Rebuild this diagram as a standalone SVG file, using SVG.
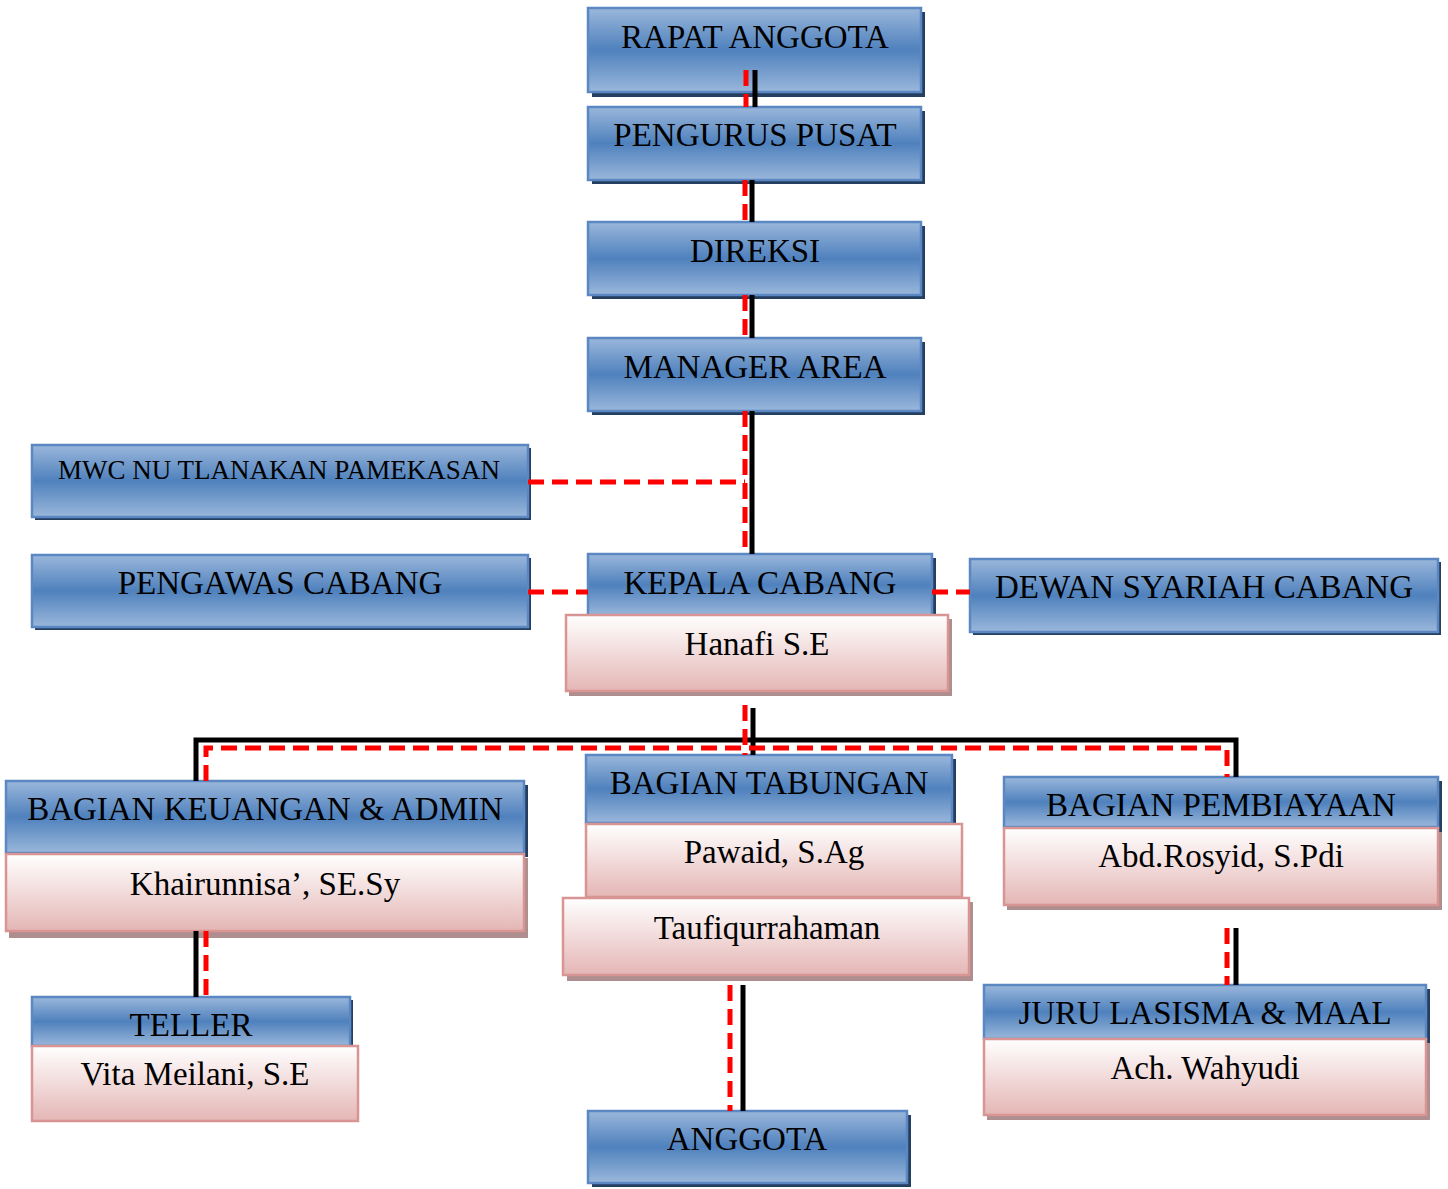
<svg xmlns="http://www.w3.org/2000/svg" width="1448" height="1189" viewBox="0 0 1448 1189">
<defs>
<linearGradient id="gb" x1="0" y1="0" x2="0" y2="1">
<stop offset="0" stop-color="#9ab7db"/>
<stop offset="0.5" stop-color="#4f81bd"/>
<stop offset="1" stop-color="#9ab7db"/>
</linearGradient>
<linearGradient id="gp" x1="0" y1="0" x2="0" y2="1">
<stop offset="0" stop-color="#ffffff"/>
<stop offset="1" stop-color="#e4b6b5"/>
</linearGradient>
</defs>
<style>
.bs{fill:#243f60}
.b{fill:url(#gb);stroke:#5b87c2;stroke-width:2.5}
.ps{fill:#ae8e8e}
.p{fill:url(#gp);stroke:#d89593;stroke-width:2.5}
text{font-family:"Liberation Serif","Times New Roman",serif;font-size:33px;fill:#000;text-anchor:middle;dominant-baseline:central}
.sm{font-size:27px}
.k{fill:none;stroke:#000;stroke-width:5}
.r{fill:none;stroke:#ff0000;stroke-width:5;stroke-dasharray:16 8}
</style>

<g id="rapat-anggota">
<rect class="bs" x="592" y="12" width="333" height="85"/>
<rect class="b" x="588" y="8" width="333" height="84"/>
<text x="755" y="37">RAPAT ANGGOTA</text>
</g>
<g id="pengurus-pusat">
<rect class="bs" x="592" y="111" width="333" height="73"/>
<rect class="b" x="588" y="107" width="333" height="73"/>
<text x="755" y="135">PENGURUS PUSAT</text>
</g>
<g id="direksi">
<rect class="bs" x="592" y="226" width="333" height="73"/>
<rect class="b" x="588" y="222" width="333" height="73"/>
<text x="755" y="251">DIREKSI</text>
</g>
<g id="manager-area">
<rect class="bs" x="592" y="342" width="333" height="73"/>
<rect class="b" x="588" y="338" width="333" height="73"/>
<text x="755" y="367">MANAGER AREA</text>
</g>
<g id="mwc-nu">
<rect class="bs" x="35" y="448" width="496" height="72"/>
<rect class="b" x="32" y="445" width="496" height="72"/>
<text class="sm" x="279" y="470">MWC NU TLANAKAN PAMEKASAN</text>
</g>
<g id="pengawas-cabang">
<rect class="bs" x="35" y="558" width="496" height="72"/>
<rect class="b" x="32" y="555" width="496" height="72"/>
<text x="280" y="583">PENGAWAS CABANG</text>
</g>
<g id="kepala-cabang">
<rect class="bs" x="592" y="558" width="344" height="62"/>
<rect class="b" x="588" y="554" width="344" height="62"/>
<text x="760" y="583">KEPALA CABANG</text>
<rect class="ps" x="569" y="619" width="383" height="77"/>
<rect class="p" x="566" y="615" width="382" height="76"/>
<text x="757" y="644">Hanafi S.E</text>
</g>
<g id="dewan-syariah-cabang">
<rect class="bs" x="973" y="562" width="468" height="73"/>
<rect class="b" x="970" y="559" width="468" height="73"/>
<text x="1204" y="587">DEWAN SYARIAH CABANG</text>
</g>
<g id="bagian-keuangan">
<rect class="bs" x="10" y="785" width="518" height="72"/>
<rect class="b" x="6" y="781" width="518" height="72"/>
<text x="265" y="809">BAGIAN KEUANGAN &amp; ADMIN</text>
<rect class="ps" x="9" y="858" width="519" height="80"/>
<rect class="p" x="6" y="854" width="518" height="77"/>
<text x="265" y="884">Khairunnisa’, SE.Sy</text>
</g>
<g id="bagian-tabungan">
<rect class="bs" x="590" y="759" width="366" height="68"/>
<rect class="b" x="586" y="755" width="366" height="68"/>
<text x="769" y="783">BAGIAN TABUNGAN</text>
<rect class="p" x="586" y="824" width="376" height="73"/>
<text x="774" y="852">Pawaid, S.Ag</text>
<rect class="ps" x="567" y="902" width="406" height="79"/>
<rect class="p" x="563" y="898" width="406" height="77"/>
<text x="767" y="928">Taufiqurrahaman</text>
</g>
<g id="bagian-pembiayaan">
<rect class="bs" x="1008" y="781" width="434" height="74"/>
<rect class="b" x="1004" y="777" width="434" height="50"/>
<text x="1221" y="805">BAGIAN PEMBIAYAAN</text>
<rect class="ps" x="1007" y="832" width="435" height="78"/>
<rect class="p" x="1004" y="828" width="434" height="77"/>
<text x="1221" y="856">Abd.Rosyid, S.Pdi</text>
</g>
<g id="teller">
<rect class="bs" x="35" y="1000" width="318" height="49"/>
<rect class="b" x="32" y="997" width="318" height="49"/>
<text x="191" y="1025">TELLER</text>
<rect class="p" x="32" y="1046" width="326" height="75"/>
<text x="195" y="1074">Vita Meilani, S.E</text>
</g>
<g id="juru-lasisma">
<rect class="bs" x="988" y="989" width="442" height="76"/>
<rect class="b" x="984" y="985" width="442" height="54"/>
<text x="1205" y="1013">JURU LASISMA &amp; MAAL</text>
<rect class="ps" x="987" y="1043" width="443" height="77"/>
<rect class="p" x="984" y="1039" width="442" height="76"/>
<text x="1205" y="1068">Ach. Wahyudi</text>
</g>
<g id="anggota">
<rect class="bs" x="592" y="1115" width="319" height="72"/>
<rect class="b" x="588" y="1111" width="319" height="72"/>
<text x="747" y="1139">ANGGOTA</text>
</g>

<g id="connectors">
<path class="k" d="M755 70V107M752 180V222M752 295V338M752 411V554M753 708V755M196 781V740H1236V777M196 931V997M743 985V1111M1236 928V985"/>
<path class="r" d="M746 70V107M745 180V222M745 295V338M745 411V554M528 482H745M528 592H588M932 592H970M745 705V755M206 781V748H1227V777M206 931V997M730 985V1111M1227 928V985"/>
</g>
</svg>
